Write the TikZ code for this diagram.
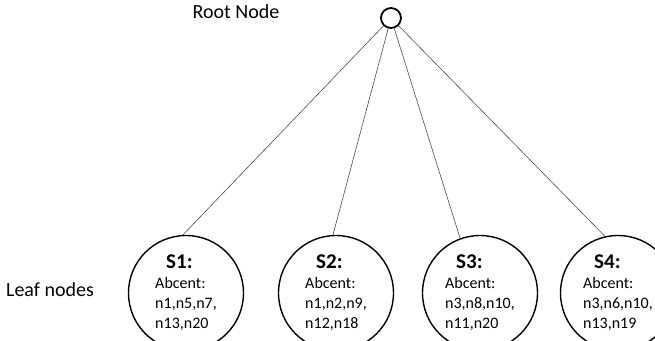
\documentclass[tikz,border=0pt]{standalone}
\usepackage{fontspec}
\setmainfont{Carlito}
\usepackage{tikz}
\usetikzlibrary{positioning, calc}
\tikzset{root/.style={circle,draw,line width=1.8pt,minimum size=20pt,inner sep=0pt},
    leaf/.style={circle,draw,line width=1.4pt,minimum size=115pt,inner sep=0pt,
        align=left,font=\fontsize{16}{20}\selectfont},
    edge/.style={draw,line width=0.6pt,black!70,-},
    caption/.style={font=\fontsize{20}{24}\selectfont}}

\begin{document}
\begin{tikzpicture}[x=1pt,y=-1pt]
    \useasboundingbox (0,0) rectangle (655,340);
    \node[root] (root) at (391,18) {};
    \node[caption] (rootlabel) at (236,12) {Root Node};
    \node[caption] (leaflabel) at (50,290) {Leaf nodes};

    \foreach \pos/\name/\ids/\more in {{(186,293)/1/{n1,n5,n7,}/{n13,n20}}, {(336,293)/2/{n1,n2,n9,}/{n12,n18}}, {(480,293)/3/{n3,n8,n10,}/{n11,n20}}, {(618,293)/4/{n3,n6,n10,}/{n13,n19}}}
                \node[leaf] (s\name) at \pos {\hspace*{11pt}{\fontsize{21}{20}\selectfont\textbf{S\name:}}\\Abcent:\\\ids\\\more};

 \foreach \dest/\ang in {s1/93, s2/93, s3/110, s4/103}
              \path (root) edge[edge] (\dest.\ang);
\end{tikzpicture}
\end{document}
